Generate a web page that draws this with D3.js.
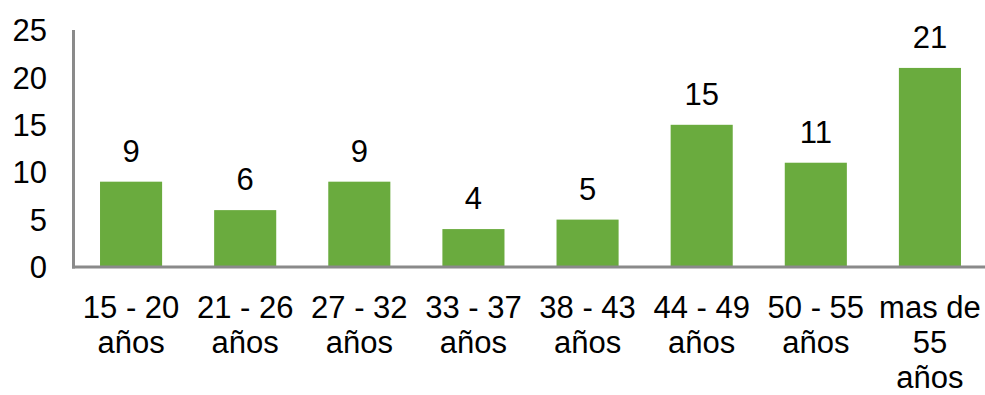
<!DOCTYPE html>
<html><head><meta charset="utf-8">
<script src="https://cdn.jsdelivr.net/npm/d3@7"></script>
<style>html,body{margin:0;padding:0;background:#fff;}svg{display:block;}</style>
</head><body>
<script>
const categories = [["15 - 20","años"],["21 - 26","años"],["27 - 32","años"],["33 - 37","años"],["38 - 43","años"],["44 - 49","años"],["50 - 55","años"],["mas de","55","años"]];
const values = [9, 6, 9, 4, 5, 15, 11, 21];
const yTicks = [0, 5, 10, 15, 20, 25];

const W = 985, H = 395;
const font = "'Liberation Sans', Arial, sans-serif";
const fs = 31;
const svg = d3.select("body").append("svg").attr("width", W).attr("height", H);

const x = d3.scaleBand().domain(d3.range(values.length)).range([74, 987]).paddingInner(0.456).paddingOuter(0.228);
const y = d3.scaleLinear().domain([0, 25]).range([267, 30]);

// bars
svg.selectAll("rect.bar").data(values).enter().append("rect")
  .attr("x", (d, i) => x(i)).attr("width", x.bandwidth())
  .attr("y", d => y(d)).attr("height", d => y(0) - y(d))
  .attr("fill", "#6aab3e");

// axes lines
const axisColor = "#8a8a8a";
svg.append("line").attr("x1", 73.5).attr("x2", 73.5).attr("y1", y(25)).attr("y2", y(0) + 1.5)
  .attr("stroke", axisColor).attr("stroke-width", 3);
svg.append("line").attr("x1", 72).attr("x2", W).attr("y1", y(0)).attr("y2", y(0))
  .attr("stroke", axisColor).attr("stroke-width", 3);

// y tick labels
svg.selectAll("text.ytick").data(yTicks).enter().append("text")
  .attr("x", 47).attr("y", d => y(d)).attr("dy", "0.36em")
  .attr("text-anchor", "end").attr("font-family", font).attr("font-size", fs).attr("fill", "#000")
  .text(d => d);

// value labels
svg.selectAll("text.val").data(values).enter().append("text")
  .attr("x", (d, i) => x(i) + x.bandwidth() / 2).attr("y", d => y(d) - 20)
  .attr("text-anchor", "middle").attr("font-family", font).attr("font-size", fs).attr("fill", "#000")
  .text(d => d);

// category labels
const g = svg.selectAll("g.cat").data(categories).enter().append("text")
  .attr("text-anchor", "middle").attr("font-family", font).attr("font-size", fs).attr("fill", "#000");
g.each(function(lines, i) {
  const t = d3.select(this);
  lines.forEach((ln, j) => {
    t.append("tspan").attr("x", x(i) + x.bandwidth() / 2).attr("y", 318 + j * 35).text(ln);
  });
});
</script>
</body></html>
